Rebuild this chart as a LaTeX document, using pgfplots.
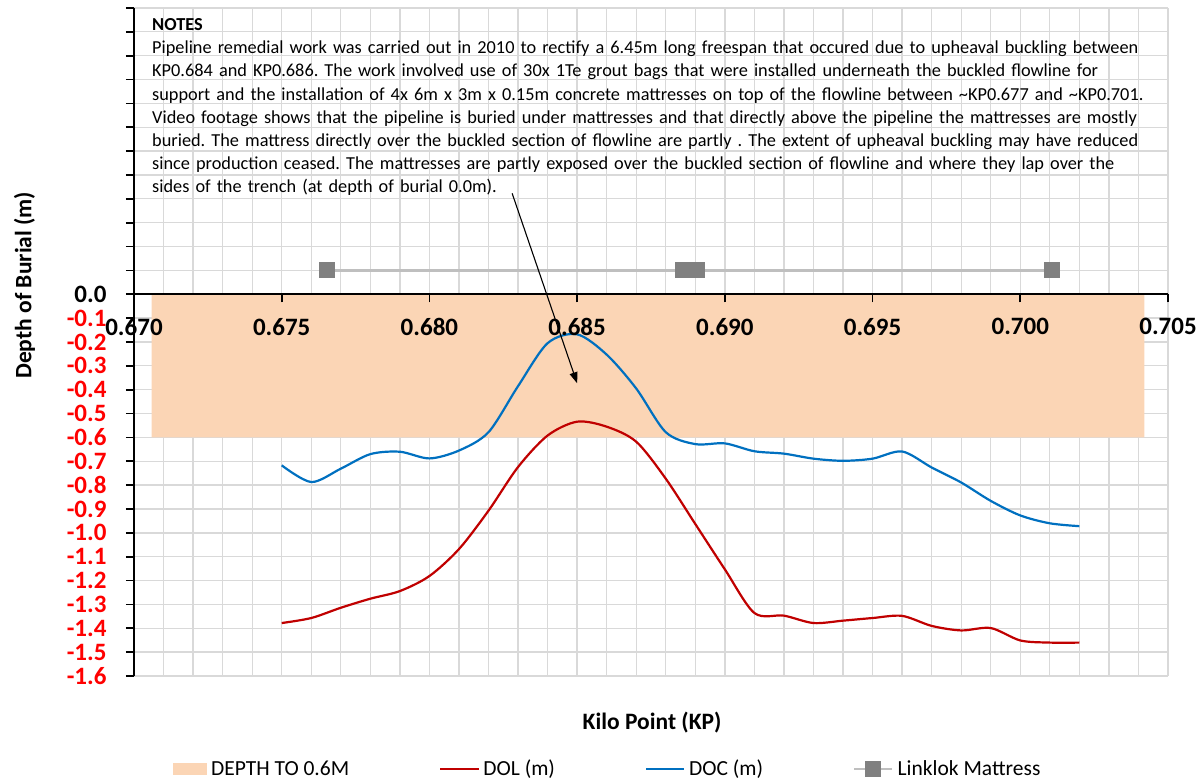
\documentclass[border=0pt]{standalone}
\usepackage{fontspec}
\setmainfont{Carlito}
\usepackage{pgfplots}
\pgfplotsset{compat=1.18}
\usetikzlibrary{arrows.meta}
\definecolor{docblue}{HTML}{0070C0}
\definecolor{dolred}{HTML}{C00000}
\definecolor{depthfill}{HTML}{FBD5B5}
\definecolor{gridgray}{HTML}{D9D9D9}
\definecolor{matline}{HTML}{BFBFBF}
\definecolor{matmark}{HTML}{808080}
\definecolor{negred}{HTML}{FF0000}
\newcommand{\nr}[1]{\textcolor{negred}{#1}}
\frenchspacing
\pgfplotsset{frame/.style={scale only axis, width=1034pt, height=668pt,
  xmin=0.670, xmax=0.705, ymin=-1.6, ymax=1.2}}

\begin{document}
\begin{tikzpicture}
% grid only, underneath everything
\begin{axis}[frame,
  axis line style={draw=none}, major tick length=0pt, minor tick length=0pt,
  xtick={0.670,0.675,0.680,0.685,0.690,0.695,0.700,0.705}, minor x tick num=4,
  ytick distance=0.1, xticklabels={}, yticklabels={},
  xmajorgrids, xminorgrids, ymajorgrids,
  major grid style={gridgray, line width=1.3pt},
  minor grid style={gridgray, line width=1.3pt}]
\end{axis}

\begin{axis}[frame,
  axis on top,
  axis x line=middle, axis y line=left,
  axis line style={-, line width=1.8pt, black},
  hide obscured x ticks=false, hide obscured y ticks=false,
  xtick={0.670,0.675,0.680,0.685,0.690,0.695,0.700,0.705},
  xticklabels={0.670,0.675,0.680,0.685,0.690,0.695,0.700,0.705},
  ytick={-1.6,-1.5,-1.4,-1.3,-1.2,-1.1,-1.0,-0.9,-0.8,-0.7,-0.6,-0.5,-0.4,-0.3,-0.2,-0.1,0,0.1,0.2,0.3,0.4,0.5,0.6,0.7,0.8,0.9,1.0,1.1,1.2},
  yticklabels={\nr{-1.6},\nr{-1.5},\nr{-1.4},\nr{-1.3},\nr{-1.2},\nr{-1.1},\nr{-1.0},\nr{-0.9},\nr{-0.8},\nr{-0.7},\nr{-0.6},\nr{-0.5},\nr{-0.4},\nr{-0.3},\nr{-0.2},\nr{-0.1},0.0,{},{},{},{},{},{},{},{},{},{},{},{}},
  xtick align=outside, ytick align=outside,
  major tick length=8pt,
  tick style={line width=1.8pt, black},
  xticklabel style={font=\fontsize{25}{30}\selectfont\bfseries, yshift=-12.5pt},
  yticklabel style={font=\fontsize{25}{30}\selectfont\bfseries, xshift=-16pt},
  xlabel={Kilo Point (KP)}, ylabel={Depth of Burial (m)},
  label style={font=\fontsize{23.5}{28}\selectfont\bfseries},
  xlabel style={at={(axis description cs:0.501,-0.069)}, anchor=center},
  ylabel style={at={(axis description cs:-0.106,0.585)}, anchor=center},
  clip=false,
  legend columns=4,
  legend style={draw=none, fill=none, inner sep=0pt, at={(0.0377,-0.139)}, anchor=west,
    font=\fontsize{21.5}{26}\selectfont, nodes={inner sep=2pt},
    /tikz/every odd column/.append style={column sep=2pt},
    /tikz/every even column/.append style={column sep=88pt}},
  legend image code/.code={\draw[#1, mark repeat=2, mark phase=2] plot coordinates {(0pt,0pt) (19pt,0pt) (38pt,0pt)};},
]
% depth to 0.6 m band
\addplot[fill=depthfill, draw=none,
  legend image code/.code={\fill[depthfill] (0pt,-6pt) rectangle (34pt,6pt);}]
  coordinates {(0.6706,0) (0.7042,0) (0.7042,-0.6) (0.6706,-0.6) (0.6706,0)};
\addlegendentry{DEPTH TO 0.6M}

\addplot[dolred, line width=2.2pt, smooth] coordinates {
(0.675,-1.378) (0.676,-1.357) (0.677,-1.314) (0.678,-1.276) (0.679,-1.244)
(0.680,-1.181) (0.681,-1.068) (0.682,-0.907) (0.683,-0.724) (0.684,-0.592)
(0.685,-0.534) (0.686,-0.555) (0.687,-0.618) (0.688,-0.773) (0.689,-0.963)
(0.690,-1.153) (0.691,-1.336) (0.692,-1.347) (0.693,-1.378) (0.694,-1.368)
(0.695,-1.357) (0.696,-1.348) (0.697,-1.390) (0.698,-1.409) (0.699,-1.399)
(0.700,-1.451) (0.701,-1.460) (0.702,-1.460)};
\addlegendentry{DOL (m)}

\addplot[docblue, line width=2.2pt, smooth] coordinates {
(0.675,-0.717) (0.676,-0.787) (0.677,-0.731) (0.678,-0.670) (0.679,-0.660)
(0.680,-0.688) (0.681,-0.655) (0.682,-0.578) (0.683,-0.385) (0.684,-0.205)
(0.685,-0.168) (0.686,-0.253) (0.687,-0.395) (0.688,-0.578) (0.689,-0.628)
(0.690,-0.625) (0.691,-0.658) (0.692,-0.668) (0.693,-0.689) (0.694,-0.698)
(0.695,-0.689) (0.696,-0.659) (0.697,-0.726) (0.698,-0.789) (0.699,-0.866)
(0.700,-0.927) (0.701,-0.960) (0.702,-0.972)};
\addlegendentry{DOC (m)}

\addplot[matline, line width=2.5pt, mark=square*,
  mark options={fill=matmark, draw=matmark, line width=0pt}, mark size=7.5pt]
  coordinates {(0.67652,0.1) (0.68859,0.1) (0.68906,0.1) (0.70107,0.1)};
\addlegendentry{Linklok Mattress}

\node[anchor=north west, text width=1020pt, align=left, inner sep=0pt,
  font=\fontsize{18.3}{23.2}\selectfont] at (axis cs:0.67061,1.157) {%
\textbf{NOTES}\\
Pipeline remedial work was carried out in 2010 to rectify a 6.45m long freespan that occured due to upheaval buckling between\\
KP0.684 and KP0.686. The work involved use of 30x 1Te grout bags that were installed underneath the buckled flowline for\\
support and the installation of 4x 6m x 3m x 0.15m concrete mattresses on top of the flowline between \textasciitilde KP0.677 and \textasciitilde KP0.701.\\
Video footage shows that the pipeline is buried under mattresses and that directly above the pipeline the mattresses are mostly\\
buried. The mattress directly over the buckled section of flowline are partly . The extent of upheaval buckling may have reduced\\
since production ceased. The mattresses are partly exposed over the buckled section of flowline and where they lap over the\\
sides of the trench (at depth of burial 0.0m).};

\draw[-{Triangle[length=11pt,width=8pt]}, line width=1.1pt]
  (axis cs:0.6828,0.423) -- (axis cs:0.6850,-0.373);
\end{axis}
\path (current axis.south west) ++(-134pt,-105pt) rectangle ++(1203pt,781pt);
\end{tikzpicture}
\end{document}
